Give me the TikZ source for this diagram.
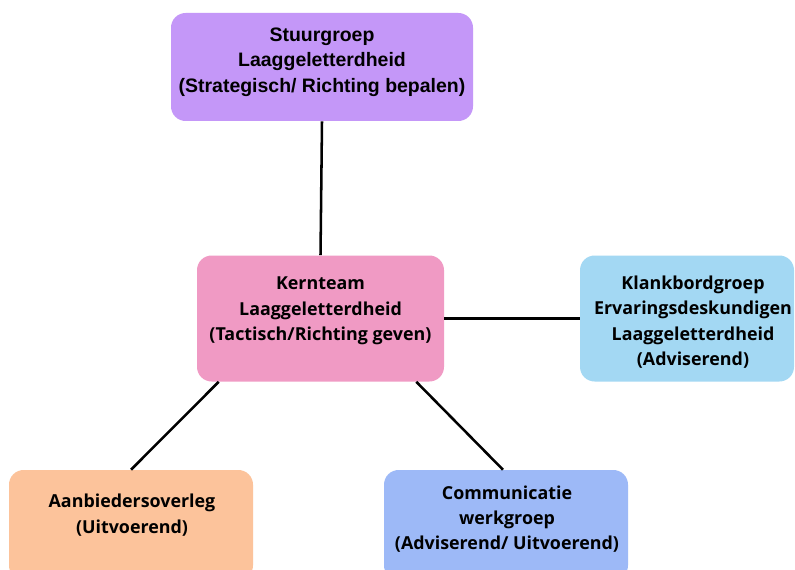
\documentclass[tikz,border=0pt]{standalone}
\usepackage{fontspec}
\setmainfont{Open Sans}
\newfontfamily\arialfont{Liberation Sans}
\definecolor{cpurple}{HTML}{C497F8}
\definecolor{cpink}{HTML}{F09AC4}
\definecolor{clblue}{HTML}{A3D8F3}
\definecolor{cblue}{HTML}{9DB9F7}
\definecolor{corange}{HTML}{FCC39B}
\begin{document}
\begin{tikzpicture}[x=0.75pt,y=-0.75pt,
  box/.style={rounded corners=11pt, inner sep=0pt, draw=none},
  txt/.style={align=center, font=\fontsize{13.4pt}{19pt}\selectfont\bfseries, inner sep=0pt},
  atxt/.style={align=center, font=\arialfont\fontsize{14.6pt}{19.2pt}\selectfont\bfseries, inner sep=0pt},
  link/.style={line width=1.9pt, black}]
\useasboundingbox (0,0) rectangle (795,570);
\clip (0,0) rectangle (795,570);
\fill[white] (0,0) rectangle (795,570);
\node[box, fill=cpurple, minimum width=302*0.75pt, minimum height=108*0.75pt] (stuur) at (322,67) {};
\node[box, fill=cpink, minimum width=247*0.75pt, minimum height=126*0.75pt] (kern) at (320.5,318.5) {};
\node[box, fill=clblue, minimum width=214*0.75pt, minimum height=126*0.75pt] (klank) at (687,318.5) {};
\node[box, fill=corange, minimum width=244*0.75pt, minimum height=110*0.75pt] (aanb) at (131,525) {};
\node[box, fill=cblue, minimum width=244*0.75pt, minimum height=110*0.75pt] (comm) at (506,525) {};
\node[atxt] (tstuur) at (322,62) {Stuurgroep\\Laaggeletterdheid\\(Strategisch/ Richting bepalen)};
\node[txt] (tkern) at (320.5,311) {Kernteam\\Laaggeletterdheid\\(Tactisch/Richting geven)};
\node[txt] (tklank) at (693,322) {Klankbordgroep\\Ervaringsdeskundigen\\Laaggeletterdheid\\(Adviserend)};
\node[txt] (taanb) at (132,515) {Aanbiedersoverleg\\(Uitvoerend)};
\node[txt] (tcomm) at (507,519) {Communicatie\\werkgroep\\(Adviserend/ Uitvoerend)};
\draw[link] (stuur.south) -- (kern.north);
\draw[link] (kern.east) -- (klank.west);
\draw[link] ([xshift=22*0.75pt]kern.south west) -- (aanb.north);
\draw[link] ([xshift=-28*0.75pt]kern.south east) -- ([xshift=-3*0.75pt]comm.north);
\end{tikzpicture}
\end{document}
